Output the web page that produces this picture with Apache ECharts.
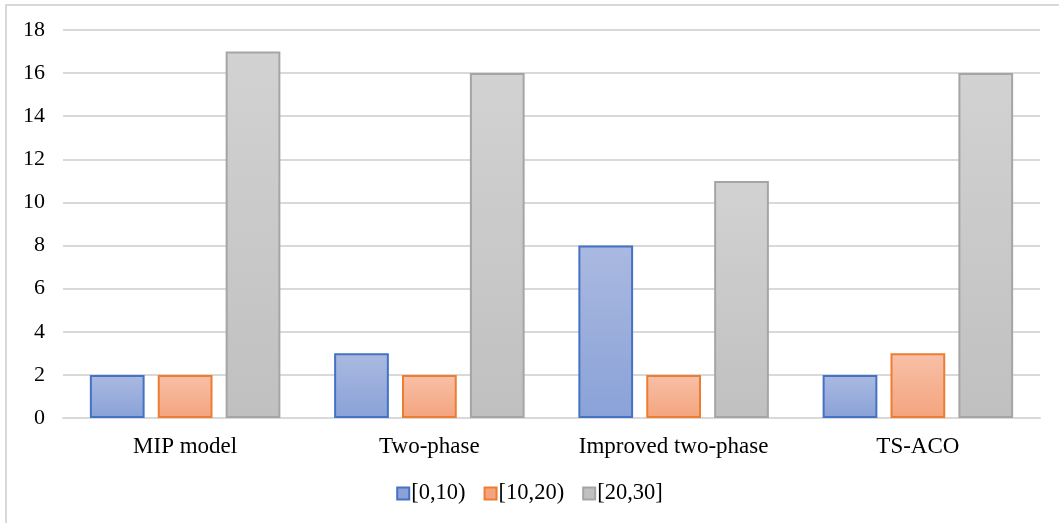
<!DOCTYPE html>
<html><head><meta charset="utf-8">
<script src="https://cdn.jsdelivr.net/npm/echarts@6/dist/echarts.min.js"></script>
<style>html,body{margin:0;padding:0;background:#fff;}#c{width:1059px;height:523px;}</style>
</head><body><div id="c"></div>
<script>
const categories = ['MIP model', 'Two-phase', 'Improved two-phase', 'TS-ACO'];
const seriesNames = ['[0,10)', '[10,20)', '[20,30]'];
const s1 = [2, 3, 8, 2];
const s2 = [2, 2, 2, 3];
const s3 = [17, 16, 11, 16];
const yTicks = [0, 2, 4, 6, 8, 10, 12, 14, 16, 18];

const styles = [
  {top:'#aab9e0', bottom:'#8aa2d8', border:'#4472c4'},
  {top:'#f8c0a8', bottom:'#f4a47e', border:'#ed7d31'},
  {top:'#d2d2d2', bottom:'#c0c0c0', border:'#a5a5a5'}
];
const data = [s1, s2, s3];
const chart = echarts.init(document.getElementById('c'));
chart.setOption({
  animation:false,
  textStyle:{fontFamily:'Liberation Serif'},
  graphic:[{type:'rect', shape:{x:6,y:5,width:1070,height:540}, style:{fill:'none', stroke:'#d9d9d9', lineWidth:2}, silent:true}],
  grid:{left:63, right:19, top:30, bottom:105},
  legend:{top:477, left:'center', itemWidth:12, itemHeight:12, itemGap:18, icon:'rect',
    textStyle:{fontSize:22.5, color:'#000', fontFamily:'Liberation Serif', padding:[0,0,0,-3]},
    data: seriesNames.map((n,i)=>({name:n, itemStyle:{color:styles[i].bottom, borderColor:styles[i].border, borderWidth:2}}))},
  xAxis:{type:'category', data:categories,
    axisLine:{lineStyle:{color:'#d9d9d9', width:2}}, axisTick:{show:false},
    axisLabel:{fontSize:23, color:'#000', margin:17, interval:0, fontFamily:'Liberation Serif'}},
  yAxis:{type:'value', min:yTicks[0], max:yTicks[yTicks.length-1], interval:2,
    axisLine:{show:false}, axisTick:{show:false},
    splitLine:{lineStyle:{color:'#d9d9d9', width:2}},
    axisLabel:{fontSize:22, color:'#000', margin:18, fontFamily:'Liberation Serif'}},
  series: seriesNames.map((n,i)=>({
    name:n, type:'bar', data:data[i], barGap:'24%', barCategoryGap:'22%',
    itemStyle:{
      color:new echarts.graphic.LinearGradient(0,0,0,1,[{offset:0,color:styles[i].top},{offset:1,color:styles[i].bottom}]),
      borderColor:styles[i].border, borderWidth:2
    }
  }))
});
</script></body></html>
